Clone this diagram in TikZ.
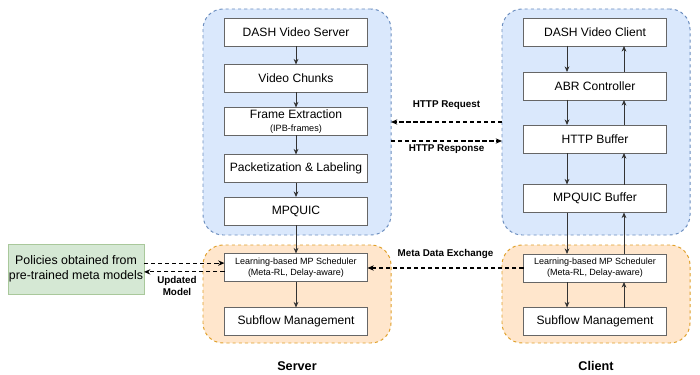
\documentclass[tikz,border=0pt]{standalone}
\usepackage{fontspec}
\setmainfont{Liberation Sans}
\usetikzlibrary{arrows.meta}
\definecolor{bluefill}{HTML}{DAE8FC}
\definecolor{blueline}{HTML}{6C8EBF}
\definecolor{orangefill}{HTML}{FFE6CC}
\definecolor{orangeline}{HTML}{E0A02A}
\definecolor{greenfill}{HTML}{D5E8D4}
\definecolor{greenline}{HTML}{A9C89B}
\begin{document}
\begin{tikzpicture}[x=0.25mm,y=-0.25mm,
    region/.style={rounded corners=5mm,dash pattern=on 2.2pt off 2.2pt,line width=0.7pt,
        inner sep=0,outer sep=0,minimum width=47mm},
    blk/.style={draw=black!60,fill=white,line width=0.5pt,inner sep=0,outer sep=0,
        minimum width=35.75mm,minimum height=7mm,align=center,font=\fontsize{8.6}{10}\selectfont},
    small/.style={font=\fontsize{6.4}{7.6}\selectfont},
    arr/.style={draw=black!80,line width=0.55pt,-{Stealth[length=4pt,width=3.4pt]}},
    darr/.style={line width=0.8pt,dash pattern=on 3pt off 2pt,-{Stealth[length=4.5pt,width=3.8pt]}},
    lbl/.style={inner sep=0,font=\bfseries\fontsize{7}{8.4}\selectfont,align=center}]
    \useasboundingbox (0,0) rectangle (700,375);

    \node[region,draw=blueline,fill=bluefill,minimum height=56.5mm] (srvtop) at (297,122) {};
    \node[region,draw=orangeline,fill=orangefill,minimum height=24.5mm] (srvbot) at (297,294) {};
    \node[region,draw=blueline,fill=bluefill,minimum height=56.5mm] (clitop) at (596,122) {};
    \node[region,draw=orangeline,fill=orangefill,minimum height=24.5mm] (clibot) at (596,294) {};

    \node[blk] (s1) at (296,32.5) {DASH Video Server};
    \node[blk] (s2) at (296,78.5) {Video Chunks};
    \node[blk] (s3) at (296,121.5) {Frame Extraction\\[-1pt]{\fontsize{6.5}{7}\selectfont(IPB-frames)}};
    \node[blk] (s4) at (296,168.5) {Packetization \& Labeling};
    \node[blk] (s5) at (296,211) {MPQUIC};
    \node[blk,small] (s6) at (296,267.5) {Learning-based MP Scheduler\\(Meta-RL, Delay-aware)};
    \node[blk] (s7) at (296,321.5) {Subflow Management};

    \node[blk] (c1) at (595,32) {DASH Video Client};
    \node[blk] (c2) at (595,86) {ABR Controller};
    \node[blk] (c3) at (595,139) {HTTP Buffer};
    \node[blk] (c4) at (595,198.5) {MPQUIC Buffer};
    \node[blk,small] (c5) at (595,268) {Learning-based MP Scheduler\\(Meta-RL, Delay-aware)};
    \node[blk] (c6) at (595,321.5) {Subflow Management};

    \node[draw=greenline,fill=greenfill,line width=0.5pt,minimum width=34mm,minimum height=12.5mm,
        inner sep=0,outer sep=0,align=center,font=\fontsize{8.8}{11}\selectfont] (pol) at (76,269)
        {Policies obtained from\\pre-trained meta models};

    \node[font=\bfseries\fontsize{9}{11}\selectfont] (srvname) at (297,366) {Server};
    \node[font=\bfseries\fontsize{9}{11}\selectfont] (cliname) at (596,366) {Client};

    \foreach \a/\b in {s1/s2,s2/s3,s3/s4,s4/s5,s5/s6,s6/s7}
        \draw[arr] (\a) -- (\b);
    \foreach \a/\b in {c1/c2,c2/c3,c3/c4,c4/c5,c5/c6}
        \draw[arr] ([xshift=-7mm]\a.south) -- ([xshift=-7mm]\b.north);
    \foreach \a/\b in {c6/c5,c5/c4,c4/c3,c3/c2,c2/c1}
        \draw[arr] ([xshift=7.25mm]\a.north) -- ([xshift=7.25mm]\b.south);

    \draw[darr] (clitop.west) -- (srvtop.east |- clitop.west)
        node[lbl,midway,above=3mm] {HTTP Request};
    \draw[darr] ([yshift=-4.75mm]srvtop.east) -- ([yshift=-4.75mm]clitop.west)
        node[lbl,midway,below=0.8mm] {HTTP Response};
    \draw[darr] (c5.west) -- (s6.east |- c5.west)
        node[lbl,midway,above=2.2mm] {Meta Data Exchange};
    \draw[darr] ([yshift=1.1mm]pol.east |- s6.west) -- ([yshift=1.1mm]s6.west);
    \draw[darr] ([yshift=-1.1mm]s6.west) -- ([yshift=-1.1mm]pol.east |- s6.west)
        node[lbl,pos=0.59,below=1mm] {Updated\\Model};
\end{tikzpicture}
\end{document}
